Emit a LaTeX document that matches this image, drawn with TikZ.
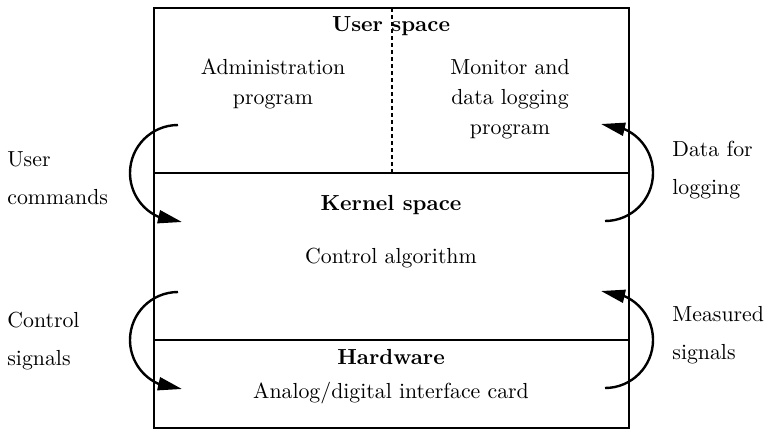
\documentclass[tikz,border=0pt]{standalone}
\usetikzlibrary{arrows.meta}
\begin{document}
\begin{tikzpicture}[x=0.5pt,y=0.5pt,
  txt/.style={font=\fontsize{10.9pt}{15pt}\selectfont, inner sep=0pt, align=center},
  side/.style={font=\fontsize{10.9pt}{19pt}\selectfont, inner sep=0pt, align=left, anchor=west},
  ttl/.style={txt, font=\fontsize{10.9pt}{15pt}\selectfont\bfseries},
  frame/.style={line width=1.4pt},
  flow/.style={line width=1.2pt, -{Triangle[length=12pt,width=6.5pt]}}]
\useasboundingbox (0,0) rectangle (769,436);
% frame and separators
\coordinate (tl) at (154,428);
\coordinate (br) at (629,8);
\draw[frame] (tl) rectangle (br);
\coordinate (s1l) at (154,263);
\coordinate (s1r) at (629,263);
\coordinate (s2l) at (154,96);
\coordinate (s2r) at (629,96);
\draw[frame] (s1l) -- (s1r);
\draw[frame] (s2l) -- (s2r);
\coordinate (dtop) at (392,428);
\coordinate (dbot) at (392,263);
\draw[line width=1.1pt, dash pattern=on 2pt off 1.5pt] (dtop) -- (dbot);
% texts
\node[ttl] (us) at (391,410) {User space};
\node[txt] (adm) at (273,352) {Administration\\program};
\node[txt] (mon) at (510,337) {Monitor and\\data logging\\program};
\node[ttl] (ks) at (391,231) {Kernel space};
\node[txt] (ca) at (391,178) {Control algorithm};
\node[ttl] (hw) at (391,79) {Hardware};
\node[txt] (card) at (391,43) {Analog/digital interface card};
\node[side] (uc) at (7,258) {User\\commands};
\node[side] (dl) at (672,266) {Data for\\logging};
\node[side] (cs) at (7,95) {Control\\signals};
\node[side] (ms) at (672,101) {Measured\\signals};
% flow arcs
\coordinate (a1) at (178,311);
\coordinate (a2) at (182,214);
\coordinate (b1) at (178,144);
\coordinate (b2) at (182,47);
\coordinate (c1) at (605,215);
\coordinate (c2) at (601,312);
\coordinate (d1) at (605,48);
\coordinate (d2) at (601,145);
\draw[flow] (a1) arc[start angle=90,end angle=245,radius=48] -- (a2);
\draw[flow] (b1) arc[start angle=90,end angle=245,radius=48] -- (b2);
\draw[flow] (c1) arc[start angle=-90,end angle=65,radius=48] -- (c2);
\draw[flow] (d1) arc[start angle=-90,end angle=65,radius=48] -- (d2);
\end{tikzpicture}
\end{document}
